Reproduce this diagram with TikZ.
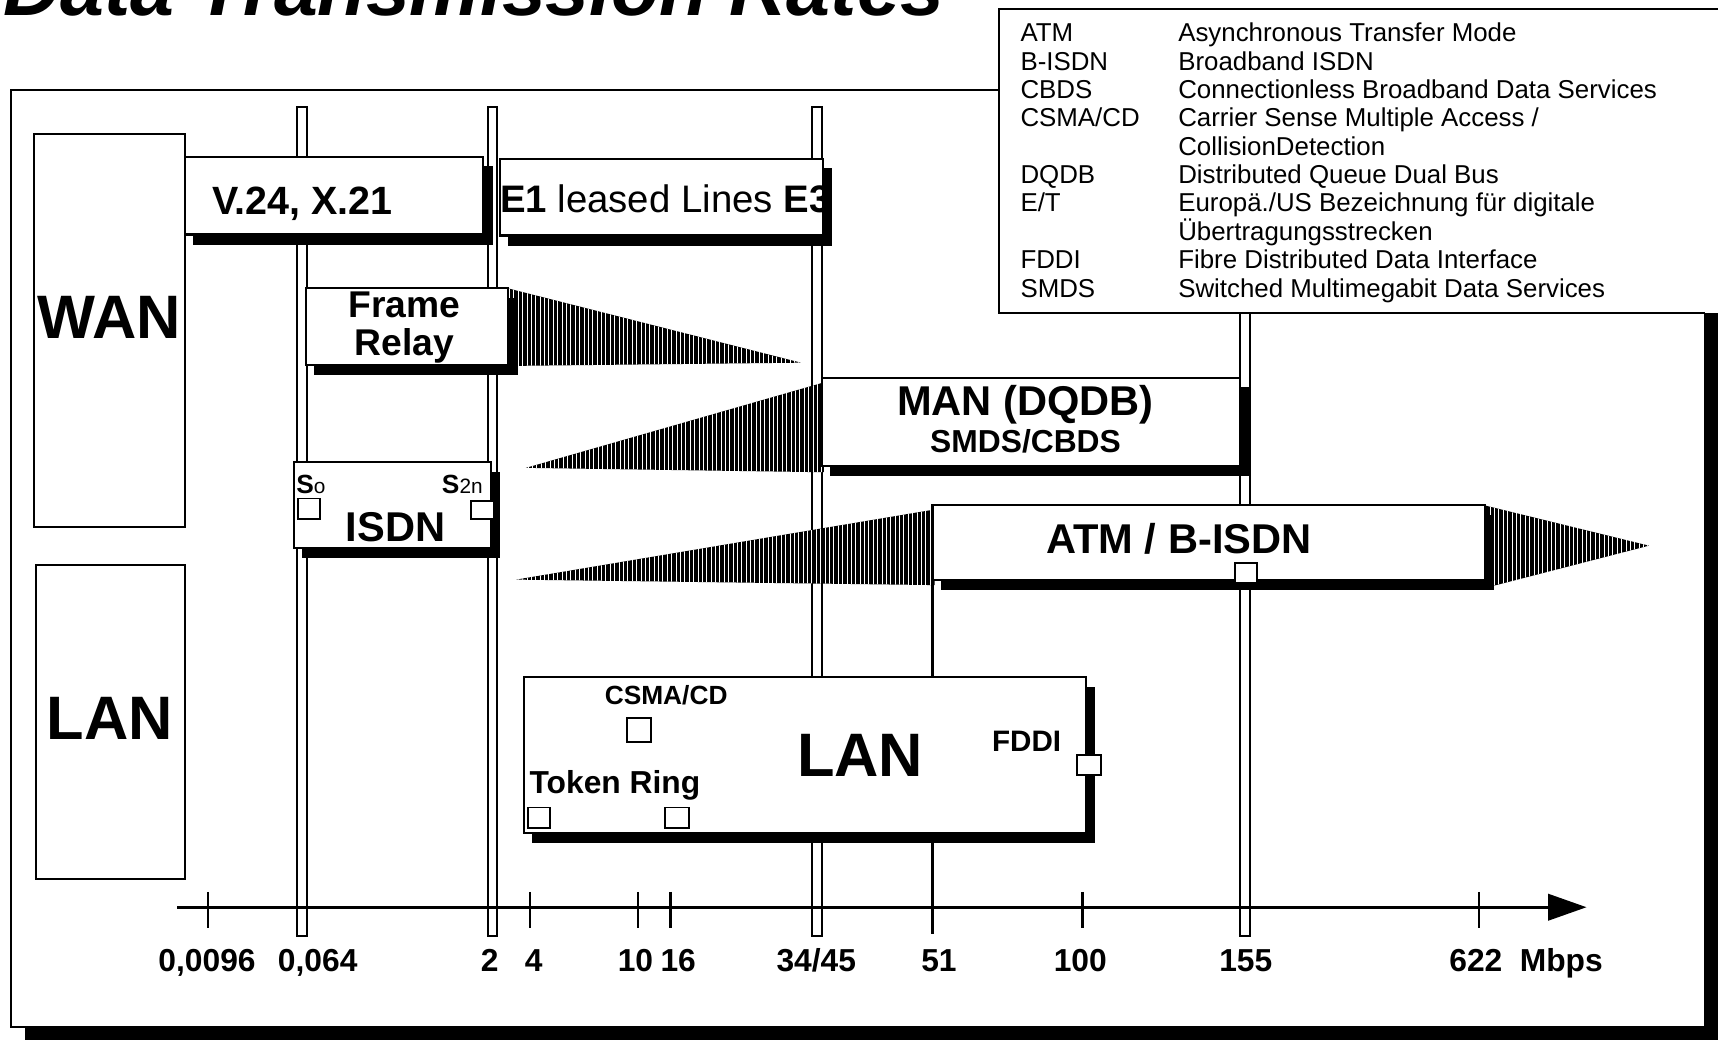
\documentclass[tikz,border=0pt]{standalone}
\usepackage{fontspec}
\setmainfont{Liberation Sans}
\usetikzlibrary{arrows.meta}
\newcommand{\hatchpoly}[4]{%
  \fill[black] #1;
  \begin{scope}
    \clip #1;
    \foreach \hx in {#2,#3,...,#4} \draw[white,line width=0.4pt] (\hx,200) -- (\hx,600);
  \end{scope}}
\begin{document}
\begin{tikzpicture}[x=0.5pt,y=-0.5pt,line join=miter,
  bx/.style={draw=black,fill=white,line width=1pt,preaction={fill=black,draw=black,transform canvas={shift={(4pt,-4.5pt)}}}},
  pl/.style={draw=black,fill=white,line width=1pt},
  sq/.style={draw=black,fill=white,line width=0.8pt},
  dl/.style={draw=black,fill=white,line width=0.9pt},
  tk/.style={line width=1pt},
  bt/.style={font=\fontsize{#1}{#1}\selectfont\bfseries,inner sep=0pt,anchor=base},
  btw/.style={font=\fontsize{#1}{#1}\selectfont\bfseries,inner sep=0pt,anchor=base west},
  rt/.style={font=\fontsize{#1}{#1}\selectfont,inner sep=0pt,anchor=base west},
]
\useasboundingbox (0,0) rectangle (1568,949);
\clip (0,0) rectangle (1568,949);
% main frame with shadow
\fill[black] (23,95) rectangle (1572,953);
\draw[pl] (10,82) rectangle (1556,937);
% rate lines
\draw[dl] (271,98) rectangle ++(9,756);
\draw[dl] (445,98) rectangle ++(9,756);
\draw[dl] (741,98) rectangle ++(9,756);
\draw[dl] (1132,98) rectangle ++(9,756);
\draw[line width=1.5pt] (851,529) -- (851,852);
\foreach \x in {190,484,582,612,988,1350} \draw[tk] (\x,814) -- (\x,847);
\coordinate (ax0) at (162,828);
\coordinate (ax1) at (1448,828);
\draw[line width=1.25pt,-{Triangle[length=17.5pt,width=12pt]}] (ax0) -- (ax1);
% hatched wedges
\hatchpoly{(463,263) -- (731,331) -- (463,334) -- cycle}{465}{469}{732}
\hatchpoly{(480,427) -- (752,349) -- (752,431) -- cycle}{482}{486}{752}
\hatchpoly{(471,529) -- (853,465) -- (853,534) -- cycle}{473}{477}{853}
\hatchpoly{(1354,461) -- (1505,498) -- (1354,537) -- cycle}{1356}{1360}{1505}
% left boxes
\draw[pl] (31,122) rectangle (169,481);
\node[bt=28] (wan) at (100,309) {WAN};
\draw[pl] (33,516) rectangle (169,802);
\node[bt=28] (lanl) at (100,675) {LAN};
% V.24
\draw[bx] (169,143) rectangle (441,214);
\node[bt=18] (v24) at (276,196) {V.24, X.21};
% E1 leased lines
\draw[bx] (456,145) rectangle (751,215);
\begin{scope}
\clip (456,140) rectangle (751,220);
\node[rt=17.5] (e1) at (456,194) {\textbf{E1} leased Lines \textbf{E3}};
\end{scope}
% Frame relay
\draw[bx] (279,263) rectangle (464,333);
\node[bt=17] (fr1) at (369,290) {Frame};
\node[bt=17] (fr2) at (369,324) {Relay};
% MAN
\draw[bx] (750,345) rectangle (1132,425);
\node[bt=19] (man) at (936,379) {MAN (DQDB)};
\node[bt=14.5] (smds) at (936,413) {SMDS/CBDS};
% ISDN
\draw[bx] (268,422) rectangle (448,500);
\node[bt=19] (isdn) at (361,494) {ISDN};
\node[btw=12] (s0) at (270,450) {S{\mdseries\fontsize{9.5}{9.5}\selectfont o}};
\node[btw=12] (s2n) at (403,450) {S{\mdseries\fontsize{9.5}{9.5}\selectfont 2n}};
\draw[sq] (272,455) rectangle (292,474);
\draw[sq] (430,457) rectangle (451,474);
% ATM
\draw[bx] (851,461) rectangle (1355,529);
\node[bt=19] (atm) at (1076,505) {ATM / B-ISDN};
\draw[sq] (1127,514) rectangle (1147,532);
% LAN
\draw[bx] (478,618) rectangle (991,760);
\node[bt=12] (csma) at (608,643) {CSMA/CD};
\draw[sq] (572,655) rectangle (594,677);
\node[bt=28] (lan) at (785,709) {LAN};
\node[bt=13.5] (fddi) at (937,686) {FDDI};
\draw[sq] (983,689) rectangle (1005,707);
\node[btw=14.5] (tr) at (483,724) {Token Ring};
\draw[sq] (482,737) rectangle (502,756);
\draw[sq] (607,737) rectangle (629,756);
% axis labels
\node[bt=14.5] (l1) at (189,887) {0,0096};
\node[bt=14.5] (l2) at (290,887) {0,064};
\node[bt=14.5] (l3) at (447,887) {2};
\node[bt=14.5] (l4) at (487,887) {4};
\node[bt=14.5] (l5) at (580,887) {10};
\node[bt=14.5] (l6) at (619,887) {16};
\node[bt=14.5] (l7) at (745,887) {34/45};
\node[bt=14.5] (l8) at (857,887) {51};
\node[bt=14.5] (l9) at (986,887) {100};
\node[bt=14.5] (l10) at (1137,887) {155};
\node[bt=14.5] (l11) at (1347,887) {622};
\node[bt=14.5] (l12) at (1425,887) {Mbps};
% legend
\fill[white] (912,8) rectangle (1572,286);
\draw[line width=1pt] (1572,8) -- (912,8) -- (912,286) -- (1556,286);
\node[rt=11.8] (a1) at (931,38) {ATM};
\node[rt=11.8] (b1) at (1075,38) {Asynchronous Transfer Mode};
\node[rt=11.8] (a2) at (931,63.9) {B-ISDN};
\node[rt=11.8] (b2) at (1075,63.9) {Broadband ISDN};
\node[rt=11.8] (a3) at (931,89.8) {CBDS};
\node[rt=11.8] (b3) at (1075,89.8) {Connectionless Broadband Data Services};
\node[rt=11.8] (a4) at (931,115.7) {CSMA/CD};
\node[rt=11.8] (b4) at (1075,115.7) {Carrier Sense Multiple Access /};
\node[rt=11.8] (b4b) at (1075,141.6) {CollisionDetection};
\node[rt=11.8] (a5) at (931,167.5) {DQDB};
\node[rt=11.8] (b5) at (1075,167.5) {Distributed Queue Dual Bus};
\node[rt=11.8] (a6) at (931,193.4) {E/T};
\node[rt=11.8] (b6) at (1075,193.4) {Europä./US Bezeichnung für digitale};
\node[rt=11.8] (b6b) at (1075,219.3) {Übertragungsstrecken};
\node[rt=11.8] (a7) at (931,245.2) {FDDI};
\node[rt=11.8] (b7) at (1075,245.2) {Fibre Distributed Data Interface};
\node[rt=11.8] (a8) at (931,271.1) {SMDS};
\node[rt=11.8] (b8) at (1075,271.1) {Switched Multimegabit Data Services};
% title
\node[font=\fontsize{36}{36}\selectfont\bfseries\itshape,inner sep=0pt,anchor=base west] (title) at (3,14) {Data Transmission Rates};
\end{tikzpicture}
\end{document}
